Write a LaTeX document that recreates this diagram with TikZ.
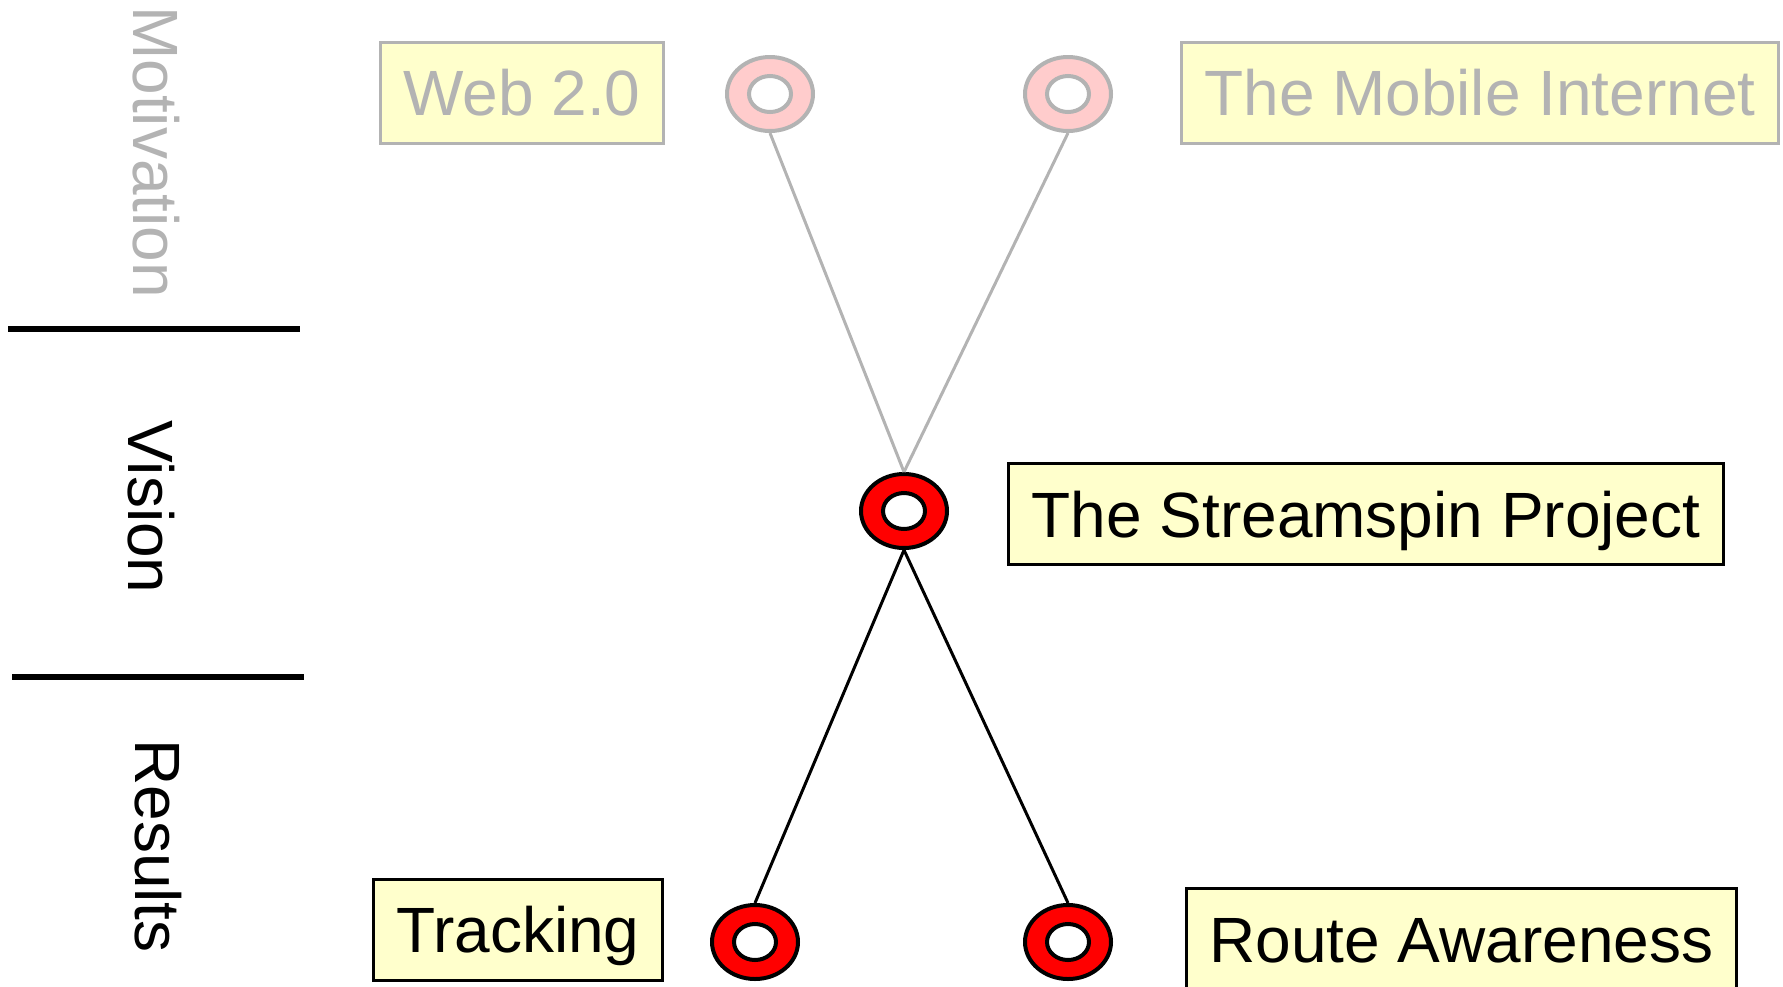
\documentclass[tikz,border=0pt]{standalone}
\usepackage{fontspec}
\setmainfont{Liberation Sans}
\usetikzlibrary{shapes.geometric}
\definecolor{faded}{HTML}{B3B3B3}
\definecolor{notefill}{HTML}{FFFFCC}
\definecolor{palered}{HTML}{FFCCCC}
\tikzstyle{topic} = [draw=black, rectangle, fill=notefill, line width=1.5pt, inner xsep=11.5pt, minimum height=50.5pt, text height=23pt, text depth=0pt, font=\fontsize{32}{38}\selectfont]
\tikzstyle{ring} = [draw=black, ellipse, fill=red, line width=2pt, minimum width=43pt, minimum height=37pt, inner sep=0pt]
\tikzstyle{faint} = [draw=faded, text=faded]
\tikzstyle{section} = [rotate=-90, anchor=base, font=\fontsize{32}{38}\selectfont]

\begin{document}
\begin{tikzpicture}[x=0.5pt, y=-0.5pt]
            \useasboundingbox (0,0) rectangle (1783,986);
            % Defining nodes
            \node[section, text=faded] (Motivation) at (133,152) {Motivation};
            \node[section] (Vision) at (128,507) {Vision};
            \node[section] (Results) at (135,846) {Results};

            \node[topic, faint] (Web) at (522,92.5) {Web 2.0};
            \node[topic, faint] (Mobile) at (1480,92.5) {The Mobile Internet};
            \node[topic] (Streamspin) at (1366,514) {The Streamspin Project};
            \node[topic] (Tracking) at (518,929.5) {Tracking};
            \node[topic] (Route) at (1461.5,939) {Route Awareness};

            \node[ring, faint, fill=palered] (WebDot) at (770,94) {};
            \node[ring, faint, fill=palered] (MobileDot) at (1068,94) {};
            \node[ring] (StreamspinDot) at (904,511) {};
            \node[ring] (TrackingDot) at (755,942) {};
            \node[ring] (RouteDot) at (1068,942) {};

            % Holes in the rings
            \foreach \dot in {WebDot, MobileDot}
                \draw[faded, fill=white, line width=2pt] (\dot) ellipse (10.5pt and 9pt);
            \foreach \dot in {StreamspinDot, TrackingDot, RouteDot}
                \draw[black, fill=white, line width=2pt] (\dot) ellipse (10.5pt and 9pt);

            % Section dividers
            \draw[black, line width=3pt] (8,329) -- (300,329);
            \draw[black, line width=3pt] (12,677) -- (304,677);

            % Drawing diagram
            \draw[faded, line width=1.5pt] (WebDot.south) -- (StreamspinDot.north);
            \draw[faded, line width=1.5pt] (MobileDot.south) -- (StreamspinDot.north);
            \draw[black, line width=1.5pt] (StreamspinDot.south) -- (TrackingDot.north);
            \draw[black, line width=1.5pt] (StreamspinDot.south) -- (RouteDot.north);
        \end{tikzpicture}
\end{document}
